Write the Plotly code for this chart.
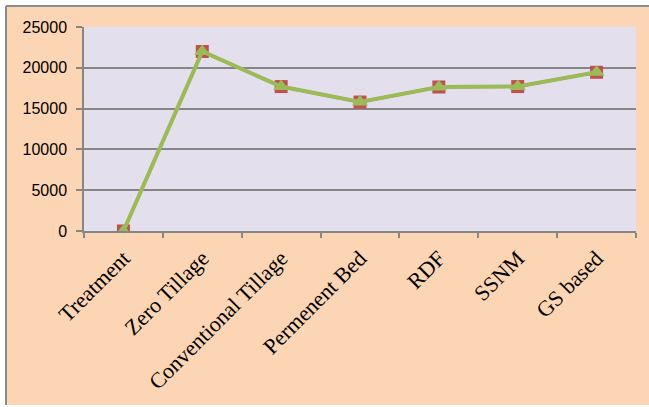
import plotly.graph_objects as go

categories = ["Treatment", "Zero Tillage", "Conventional Tillage", "Permenent Bed", "RDF", "SSNM", "GS based"]
series_red = [0, 22000, 17700, 15800, 17650, 17700, 19450]
series_green = [0, 22000, 17700, 15800, 17650, 17700, 19450]
y_ticks = [0, 5000, 10000, 15000, 20000, 25000]

fig = go.Figure()
fig.add_trace(go.Scatter(
    x=categories, y=series_red, mode="lines+markers",
    line=dict(color="#C0504D", width=3),
    marker=dict(symbol="square", size=13, color="#C0504D"),
    showlegend=False,
))
fig.add_trace(go.Scatter(
    x=categories, y=series_green, mode="lines+markers",
    line=dict(color="#9BBB59", width=4),
    marker=dict(symbol="triangle-up", size=14, color="#9BBB59"),
    showlegend=False,
))

PW, PH = 552, 204
# white outer margins (top, left, bottom strips)
fig.add_shape(type="rect", xref="paper", yref="paper",
              x0=-84/PW, x1=1+13/PW, y0=1+21/PH, y1=1+27/PH,
              fillcolor="white", line=dict(width=0), layer="below")
fig.add_shape(type="rect", xref="paper", yref="paper",
              x0=-84/PW, x1=-78/PW, y0=-176/PH, y1=1+27/PH,
              fillcolor="white", line=dict(width=0), layer="below")
fig.add_shape(type="rect", xref="paper", yref="paper",
              x0=-84/PW, x1=1+13/PW, y0=-176/PH, y1=-174/PH,
              fillcolor="white", line=dict(width=0), layer="below")
# gray top/left border
fig.add_shape(type="line", xref="paper", yref="paper",
              x0=-78/PW, x1=1+13/PW, y0=1+21/PH, y1=1+21/PH,
              line=dict(color="#8C8C8C", width=2), layer="below")
fig.add_shape(type="line", xref="paper", yref="paper",
              x0=-78/PW, x1=-78/PW, y0=-174/PH, y1=1+21/PH,
              line=dict(color="#8C8C8C", width=2), layer="below")

fig.update_layout(
    width=649, height=407,
    margin=dict(l=84, r=13, t=27, b=176),
    paper_bgcolor="#FCD5B5",
    plot_bgcolor="#E4DFEC",
    font=dict(family="Liberation Sans", color="black"),
    xaxis=dict(
        type="category", tickangle=-45, tickson="boundaries",
        ticks="outside", ticklen=5, tickcolor="#868686", tickwidth=1.5,
        showline=True, linecolor="#868686", linewidth=1.5,
        showgrid=False, tickfont=dict(family="Liberation Serif", size=22, color="black"),
        range=[-0.5, 6.5], ticklabelstandoff=4,
    ),
    yaxis=dict(
        range=[0, 25000], tickvals=y_ticks, ticktext=[str(v) for v in y_ticks],
        ticks="outside", ticklen=6, tickcolor="#868686", tickwidth=1.5,
        showline=True, linecolor="#868686", linewidth=1.5,
        showgrid=True, gridcolor="#868686", gridwidth=1.5,
        zeroline=False, ticklabelstandoff=6,
        tickfont=dict(family="Liberation Sans", size=16, color="black"),
    ),
)

fig.write_html("out.html")
